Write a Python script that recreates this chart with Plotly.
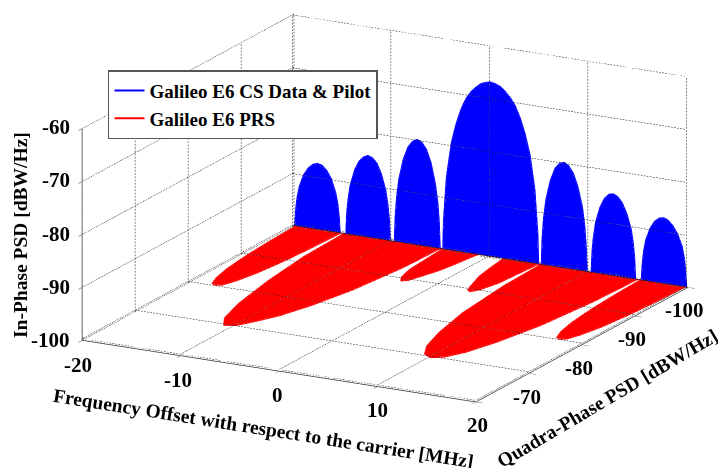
import numpy as np
import plotly.graph_objects as go

x_ticks = [-20, -10, 0, 10, 20]
y_ticks = [-100, -90, -80, -70, -60]
y_tick_labels = ["-100", "-90", "-80", "-70", ""]
z_ticks = [-100, -90, -80, -70, -60]

cs_freq = [-19.91, -19.82, -19.68, -19.45, -18.99, -18.52, -18.06, -17.6, -17.14, -16.68, -16.21, -15.75, -15.52, -15.38, -15.29,
           -14.72, -14.63, -14.49, -14.27, -13.82, -13.36, -12.91, -12.46, -12.01, -11.56, -11.1, -10.65, -10.43, -10.29, -10.2,
           -9.8, -9.7, -9.56, -9.33, -8.86, -8.4, -7.93, -7.46, -7.0, -6.53, -6.06, -5.6, -5.36, -5.22, -5.13,
           -4.87, -4.8, -4.5, -4, -3.5, -3, -2.5, -2, -1.5, -1, -0.5, 0,
           0.5, 1, 1.5, 2, 2.5, 3, 3.5, 4, 4.5, 4.8, 4.87,
           5.13, 5.22, 5.36, 5.6, 6.06, 6.53, 7.0, 7.46, 7.93, 8.4, 8.86, 9.33, 9.56, 9.7, 9.8,
           10.2, 10.29, 10.43, 10.65, 11.1, 11.56, 12.01, 12.46, 12.91, 13.36, 13.82, 14.27, 14.49, 14.63, 14.72,
           15.29, 15.38, 15.52, 15.75, 16.21, 16.68, 17.14, 17.6, 18.06, 18.52, 18.99, 19.45, 19.68, 19.82, 19.91]
cs_psd = [-100, -97, -94.6, -92.4, -90, -88.6, -87.8, -87.5, -87.7, -88.5, -89.9, -92.4, -94.6, -97, -100,
          -100, -96, -93.3, -90.6, -87.6, -85.8, -84.9, -84.5, -84.8, -85.7, -87.6, -90.6, -93.3, -96, -100,
          -100, -95, -91.5, -88, -84, -81.7, -80.5, -80, -80.4, -81.6, -84, -88, -91.5, -95, -100,
          -100, -94.6, -86.2, -79.6, -75.8, -72.9, -70.8, -69.4, -68.4, -67.6, -67.2, -67,
          -67.2, -67.6, -68.4, -69.4, -70.8, -72.9, -75.8, -79.6, -86.2, -94.6, -100,
          -100, -95, -91.2, -87.6, -83.8, -81.4, -80.3, -80, -80.5, -81.8, -84.2, -88, -91.5, -95, -100,
          -100, -96, -93.2, -90.4, -87.4, -85.6, -84.7, -84.5, -84.9, -85.9, -87.8, -90.6, -93.3, -96, -100,
          -100, -97, -94.5, -92.2, -89.8, -88.4, -87.7, -87.5, -87.9, -88.8, -90.2, -92.4, -94.6, -97, -100]

prs_freq = [-19.8, -19.65, -19.4, -19, -18.5, -18, -17.5, -17, -16.5, -16, -15.6, -15.35, -15.2,
            -14.9, -14.7, -14, -13, -12, -11, -10, -9, -8, -7, -6, -5.3, -5.1,
            -4.9, -4.5, -4, -3.5, -3, -2, -1.6, -1.3,
            1.3, 1.6, 2, 3, 3.5, 4, 4.5, 4.9,
            5.1, 5.3, 6, 7, 8, 9, 10, 11, 12, 13, 14, 14.7, 14.9,
            15.2, 15.35, 15.6, 16, 16.5, 17, 17.5, 18, 18.5, 19, 19.4, 19.65, 19.8]
prs_psd = [-100, -95, -90, -85.5, -82.5, -80.8, -80.5, -80.8, -82.5, -85.5, -90, -95, -100,
           -100, -92, -84, -76.5, -72, -70, -70.5, -72.5, -75, -79, -85, -93, -100,
           -100, -93, -90.5, -89.5, -90, -94, -97, -100,
           -100, -97, -94, -90, -89.5, -90.5, -93, -100,
           -100, -92.5, -83.5, -77.2, -73, -70.75, -70, -70.75, -73, -77.2, -83.5, -92.5, -100,
           -100, -95, -90, -85.5, -82.5, -80.8, -80.5, -80.8, -82.5, -85.5, -90, -95, -100]

FONT = "Liberation Serif"
floor = z_ticks[0]
back = y_ticks[0]
front = y_ticks[-1]
left = x_ticks[0]
right = x_ticks[-1]
top = z_ticks[-1]
inset = 0.05  # keeps the flat sheets just inside the clip box
flat = dict(ambient=1, diffuse=0, specular=0, roughness=1, fresnel=0)


def strip(n):
    a = np.arange(n - 1)
    return np.r_[a, a + 1], np.r_[a + 1, a + n + 1], np.r_[a + n, a + n]


def dotted(p0, p1, n, gx, gy, gz):
    """Split one grid line into n short strokes so that it reads as a dotted line."""
    t = np.linspace(0, 1, n + 1)
    for a, b in zip(t[:-1], t[:-1] + 0.55 / n):
        for s in (a, b):
            gx.append(p0[0] + (p1[0] - p0[0]) * s)
            gy.append(p0[1] + (p1[1] - p0[1]) * s)
            gz.append(p0[2] + (p1[2] - p0[2]) * s)
        gx.append(None)
        gy.append(None)
        gz.append(None)


fig = go.Figure()

cs_x = np.array(cs_freq, float)
cs_z = np.array(cs_psd, float) + inset
ti, tj, tk = strip(len(cs_x))
fig.add_trace(go.Mesh3d(
    x=np.r_[cs_x, cs_x], y=np.full(2 * len(cs_x), back + inset), z=np.r_[cs_z, np.full(len(cs_x), floor + inset)],
    i=ti, j=tj, k=tk, color="#0000FF", opacity=0.999, lighting=flat, hoverinfo="skip", showlegend=False))

prs_x = np.array(prs_freq, float)
prs_y = np.array(prs_psd, float) + inset
ti, tj, tk = strip(len(prs_x))
fig.add_trace(go.Mesh3d(
    x=np.r_[prs_x, prs_x], y=np.r_[prs_y, np.full(len(prs_x), back + inset)], z=np.full(2 * len(prs_x), floor + inset),
    i=ti, j=tj, k=tk, color="#FF0000", opacity=0.999, lighting=flat, hoverinfo="skip", showlegend=False))

# dotted box grid
gx, gy, gz = [], [], []
eps = 0.3
NH, NV = 130, 65
for xv in x_ticks:
    dotted((xv, back + eps, floor + eps), (xv, front, floor + eps), NH, gx, gy, gz)
    dotted((xv, back + eps, floor), (xv, back + eps, top), NV, gx, gy, gz)
for yv in y_ticks:
    dotted((left, yv, floor + eps), (right, yv, floor + eps), NH, gx, gy, gz)
    dotted((left, yv, floor), (left, yv, top), NV, gx, gy, gz)
for zv in z_ticks:
    dotted((left, back + eps, zv), (right, back + eps, zv), NH, gx, gy, gz)
    dotted((left, back, zv), (left, front, zv), NH, gx, gy, gz)
fig.add_trace(go.Scatter3d(x=gx, y=gy, z=gz, mode="lines", line=dict(color="#000000", width=1),
                           connectgaps=False, hoverinfo="skip", showlegend=False))

# dark seam where the two sheets meet
fig.add_trace(go.Scatter3d(x=[left, right], y=[back + 0.1, back + 0.1], z=[floor + 0.1, floor + 0.1], mode="lines",
                           line=dict(color="#200000", width=1.5), hoverinfo="skip", showlegend=False))

# legend entries
fig.add_trace(go.Scatter3d(x=cs_freq, y=[back + inset] * len(cs_freq), z=cs_psd, mode="lines",
                           line=dict(color="#0000FF", width=2), name="Galileo E6 CS Data & Pilot", hoverinfo="skip"))
fig.add_trace(go.Scatter3d(x=prs_freq, y=prs_psd, z=[floor + inset] * len(prs_freq), mode="lines",
                           line=dict(color="#FF0000", width=2), name="Galileo E6 PRS", hoverinfo="skip"))


def axis(rng, vals):
    return dict(range=rng, tickmode="array", tickvals=vals, showgrid=False, zeroline=False, showbackground=False,
                showline=True, linecolor="#333333", linewidth=1.5, ticks="outside", ticklen=8, tickcolor="#333333",
                showticklabels=False, showspikes=False, title=dict(text=""))


def label(text, px, py, angle=0, size=21, xanchor="center"):
    return dict(text="<b>" + text + "</b>", x=px / 718, y=1 - py / 468, xref="paper", yref="paper",
                xanchor=xanchor, yanchor="middle", showarrow=False, textangle=angle,
                font=dict(family=FONT, size=size, color="black"))


def ramp(a, b, n):
    return np.linspace(a, b, n)


tick_notes = []
for t, px, py in zip(x_ticks, ramp(78, 477, 5), ramp(365, 425, 5)):
    tick_notes.append(label(str(t), px, py))
for t, px, py in zip(y_tick_labels[:4], ramp(684, 527, 4), ramp(310, 397, 4)):
    tick_notes.append(label(t, px, py))
for t, py in zip(z_ticks, ramp(340, 127, 5)):
    tick_notes.append(label(str(t), 72, py, xanchor="right"))

fig.update_layout(
    width=718, height=468, margin=dict(l=0, r=0, t=0, b=0), paper_bgcolor="white",
    scene=dict(
        domain=dict(x=[0.0724, 1], y=[0.111, 1]),
        xaxis=axis([-20, 20], x_ticks),
        yaxis=axis([-60, -100], y_ticks),
        zaxis=axis([-100, -60], z_ticks),
        aspectmode="manual", aspectratio=dict(x=2.15, y=2.15, z=1.064),
        camera=dict(projection=dict(type="orthographic"), up=dict(x=0, y=0, z=1), center=dict(x=0, y=0, z=0),
                    eye=dict(x=0.4535 * 1.9, y=-0.8426 * 1.9, z=0.291 * 1.9)),
    ),
    legend=dict(x=0.1504, y=0.85, xanchor="left", yanchor="top", bgcolor="white", bordercolor="#555555", borderwidth=1.5,
                font=dict(family=FONT, size=19, color="black", weight=700)),
    annotations=tick_notes + [
        label("Frequency Offset with respect to the carrier [MHz]", 263, 428, 9, 19.5),
        label("Quadra-Phase PSD [dBW/Hz]", 607, 398, -30.6, 19.5),
        label("In-Phase PSD [dBW/Hz]", 20, 235, -90, 19.5),
    ],
)

fig.write_html("out.html", config=dict(displayModeBar=False), post_script="document.body.style.margin='0';")
